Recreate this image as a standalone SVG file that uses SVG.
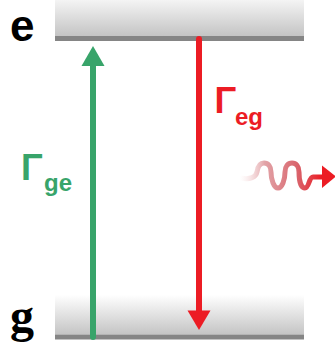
<svg xmlns="http://www.w3.org/2000/svg" width="335" height="349" viewBox="0 0 335 349">
  <defs>
    <linearGradient id="bandTop" x1="0" y1="0" x2="0" y2="1">
      <stop offset="0" stop-color="#f4f4f4"/>
      <stop offset="1" stop-color="#c4c4c4"/>
    </linearGradient>
    <linearGradient id="bandBot" x1="0" y1="0" x2="0" y2="1">
      <stop offset="0" stop-color="#ffffff"/>
      <stop offset="1" stop-color="#c4c4c4"/>
    </linearGradient>
    <linearGradient id="waveGrad" gradientUnits="userSpaceOnUse" x1="240" y1="0" x2="322" y2="0">
      <stop offset="0" stop-color="#f6d8d9" stop-opacity="0"/>
      <stop offset="0.3" stop-color="#e2a4a8"/>
      <stop offset="0.7" stop-color="#d9646c"/>
      <stop offset="1" stop-color="#ec1c24"/>
    </linearGradient>
  </defs>
  <style>
    .line { fill: #858585; }
    .lvl { font-family: "Liberation Sans", Arial, sans-serif; font-weight: bold; font-size: 44px; fill: #000; }
    .lvlg { font-family: "Liberation Serif", serif; font-weight: bold; font-size: 48px; fill: #000; }
    .gam { font-family: "Liberation Sans", Arial, sans-serif; font-weight: bold; font-size: 36px; }
    .sub { font-family: "Liberation Sans", Arial, sans-serif; font-weight: bold; font-size: 24px; }
    .green { fill: #38a46a; }
    .red { fill: #ec1c24; }
  </style>

  <g id="level-e">
    <rect x="55" y="0" width="249" height="36" fill="url(#bandTop)"/>
    <rect class="line" x="55" y="36" width="249" height="5"/>
    <text class="lvl" x="10" y="41">e</text>
  </g>

  <g id="level-g">
    <rect x="55" y="295" width="249" height="39.5" fill="url(#bandBot)"/>
    <rect class="line" x="55" y="334.5" width="249" height="5"/>
    <text class="lvlg" x="10" y="332">g</text>
  </g>

  <g id="connectors">
    <g id="absorption">
      <line x1="93" y1="337" x2="93" y2="62" stroke="#38a46a" stroke-width="6" stroke-linecap="round"/>
      <polygon points="93,46 81.5,66 104.5,66" fill="#38a46a"/>
    </g>
    <g id="emission">
      <line x1="199" y1="39" x2="199" y2="314" stroke="#ec1c24" stroke-width="6" stroke-linecap="round"/>
      <polygon points="199,330 187.5,310.5 210.5,310.5" fill="#ec1c24"/>
    </g>
    <g id="photon">
      <path d="M 241 178 C 250 180, 256 177, 257 172 C 258 165, 261 163, 264 163 C 268 163, 271 166, 271 172 C 271 180, 274 188, 278 188 C 282 188, 285 180, 285 172 C 285 166, 288 163, 292 163 C 296 163, 299 166, 299 172 C 299 181, 301 188, 305 188 C 309 188, 309 177, 313 177 L 324 177" fill="none" stroke="url(#waveGrad)" stroke-width="5" stroke-linecap="round"/>
      <polygon points="322,165.5 336,176.5 322,188" fill="#ec1c24"/>
    </g>
  </g>

  <g id="label-ge">
    <text class="gam green" x="21" y="180">Γ</text>
    <text class="sub green" x="44" y="191">ge</text>
  </g>
  <g id="label-eg">
    <text class="gam red" x="214.5" y="113">Γ</text>
    <text class="sub red" x="235" y="125">eg</text>
  </g>
</svg>
